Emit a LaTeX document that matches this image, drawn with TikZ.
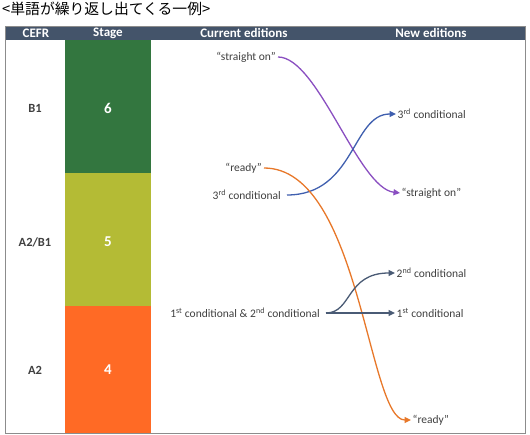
\documentclass[tikz,border=0pt]{standalone}
\usepackage{fontspec}
\setmainfont{Carlito}
\newfontfamily\cjk{Noto Sans CJK JP}
\usetikzlibrary{arrows.meta}
\definecolor{hdr}{HTML}{44546A}
\definecolor{stgreen}{HTML}{33763F}
\definecolor{stlime}{HTML}{B4BB35}
\definecolor{storange}{HTML}{FF6A25}
\definecolor{txt}{HTML}{404040}
\definecolor{lnpurple}{HTML}{8A4FC1}
\definecolor{lnblue}{HTML}{3F5FAF}
\definecolor{lnorange}{HTML}{E8782A}
\definecolor{lnslate}{HTML}{4A5B75}
\definecolor{frame}{HTML}{8C8C8C}
\tikzset{
  hdrtext/.style={text=white,font=\fontsize{13}{15}\bfseries\selectfont,inner sep=0pt},
  cefrtext/.style={text=txt,font=\fontsize{12.5}{14}\bfseries\selectfont,inner sep=0pt},
  stagetext/.style={text=white,font=\fontsize{15}{17}\bfseries\selectfont,inner sep=0pt},
  lefttext/.style={text=txt,font=\fontsize{11.5}{13}\selectfont,anchor=east,inner xsep=2pt,inner ysep=0pt},
  righttext/.style={text=txt,font=\fontsize{11.5}{13}\selectfont,anchor=west,inner xsep=1.5pt,inner ysep=0pt},
  conn/.style={line width=1.3pt,-{Triangle[length=6.5pt,width=6pt]}},
}
\begin{document}
\begin{tikzpicture}[x=1pt,y=-1pt]
\useasboundingbox (0,0) rectangle (530,435);
\fill[white] (0,0) rectangle (530,435);
\node[anchor=west,inner sep=0pt,font=\cjk\fontsize{14.8}{16}\selectfont] (title) at (2,9) {<単語が繰り返し出てくる一例>};
% header
\fill[hdr] (5,26) rectangle (525,40);
\fill[stgreen] (65,40) rectangle (151,173);
\fill[stlime] (65,173) rectangle (151,306);
\fill[storange] (65,306) rectangle (151,433);
\draw[frame,line width=0.8pt] (5,26) rectangle (525,433);
\node[hdrtext] (hcefr) at (36,33) {CEFR};
\node[hdrtext] (hstage) at (108,33) {Stage};
\node[hdrtext] (hcur) at (244,33) {Current editions};
\node[hdrtext] (hnew) at (431,33) {New editions};
% CEFR and stages
\node[cefrtext] (b1) at (35,108) {B1};
\node[cefrtext] (a2b1) at (35,242) {A2/B1};
\node[cefrtext] (a2) at (35,370) {A2};
\node[stagetext] (s6) at (108,108) {6};
\node[stagetext] (s5) at (108,242) {5};
\node[stagetext] (s4) at (108,370) {4};
% current editions
\node[lefttext] (so1) at (278,57) {“straight on”};
\node[lefttext] (rd1) at (264,168) {“ready”};
\node[lefttext] (c3a) at (283,195) {3\textsuperscript{rd} conditional};
\node[lefttext] (c12) at (322,313) {1\textsuperscript{st} conditional \& 2\textsuperscript{nd} conditional};
% new editions
\node[righttext] (c3b) at (396,114) {3\textsuperscript{rd} conditional};
\node[righttext] (so2) at (400,193) {“straight on”};
\node[righttext] (c2b) at (395,273) {2\textsuperscript{nd} conditional};
\node[righttext] (c1b) at (395,313) {1\textsuperscript{st} conditional};
\node[righttext] (rd2) at (411,420) {“ready”};
% connectors
\draw[conn,lnpurple] (so1.east) .. controls (318,57) and (358,188) .. (so2.west);
\draw[conn,lnblue] ([xshift=4pt]c3a.east) .. controls (355,195) and (352,114) .. (c3b.west);
\draw[conn,lnorange] (rd1.east) .. controls (360,168) and (368,420) .. (rd2.west);
\draw[conn,lnslate] ([xshift=4pt]c12.east) -- (c1b.west);
\draw[conn,lnslate] ([xshift=4pt]c12.east) .. controls (352,313) and (346,273) .. (c2b.west);
\end{tikzpicture}
\end{document}
